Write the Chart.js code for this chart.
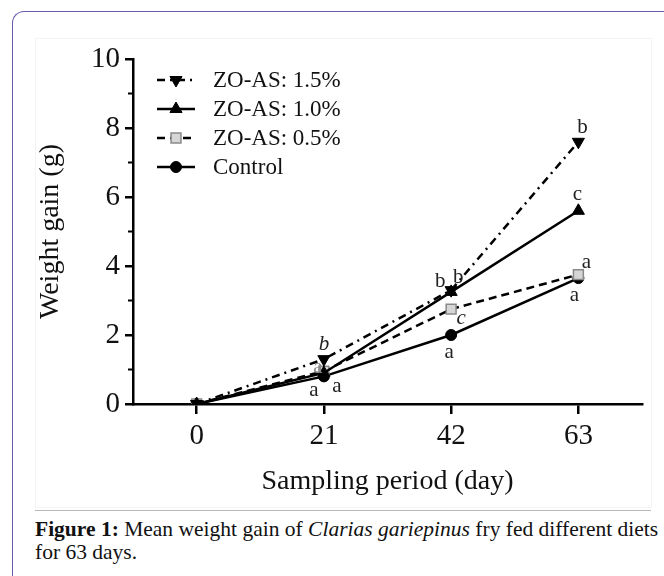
<!DOCTYPE html>
<html>
<head>
<meta charset="utf-8">
<script src="https://cdn.jsdelivr.net/npm/chart.js@4.4.1/dist/chart.umd.min.js"></script>
<style>
html, body { margin: 0; padding: 0; background: #fff; }
body { width: 664px; height: 576px; position: relative; overflow: hidden; font-family: "Liberation Serif", serif; }
#frame { position: absolute; left: 12px; top: 11px; width: 700px; height: 620px; border-left: 1.5px solid #675caf; border-top: 1.5px solid #675caf; border-top-left-radius: 12px; }
#panel { position: absolute; left: 35px; top: 38px; width: 615px; height: 468px; border: 1px solid #f4f4f4; }
#wrap { position: absolute; left: 0; top: 0; width: 664px; height: 505px; }
#rule { position: absolute; left: 35px; top: 510px; width: 616px; height: 1px; background: #b8b8b8; }
#caption { position: absolute; left: 35px; top: 518px; font-size: 21.5px; line-height: 23px; color: #111; white-space: nowrap; }
</style>
</head>
<body>
<div id="frame"></div>
<div id="panel"></div>
<div id="wrap"><canvas id="chart"></canvas></div>
<div id="rule"></div>
<div id="caption"><b>Figure 1:</b> Mean weight gain of <i>Clarias gariepinus</i> fry fed different diets<br>for 63 days.</div>
<script>
// sampling days and tick labels
const days = [0, 21, 42, 63];
const xTickLabels = ["0", "21", "42", "63"];
const yTickValues = [0, 2, 4, 6, 8, 10];
const yMinorTicks = [1, 3, 5, 7, 9];

const seriesNames = ["ZO-AS: 1.5%", "ZO-AS: 1.0%", "ZO-AS: 0.5%", "Control"];

// weight gain (g)
const zo15 = [0, 1.3, 3.3, 7.6];
const zo10 = [0, 0.9, 3.25, 5.6];
const zo05 = [0, 0.95, 2.75, 3.75];
const control = [0, 0.8, 2.0, 3.65];

// significance letters
const letters15 = ["", "b", "b", "b"];
const letters10 = ["", "a", "b", "c"];
const letters05 = ["", "a", "c", "a"];
const lettersControl = ["", "a", "a", "a"];

const FONT = "Liberation Serif";

// where each letter sits next to its point
const letterStyle = [
    [null, { dx: 0, dy: -15, italic: true }, { dx: 7, dy: -13 }, { dx: 4, dy: -14 }],
    [null, { dx: 13, dy: 14 }, { dx: -11, dy: -10 }, { dx: -1, dy: -16 }],
    [null, { dx: -6, dy: -4, color: "#888" }, { dx: 10, dy: 9, italic: true }, { dx: 8, dy: -12 }],
    [null, { dx: -10, dy: 14 }, { dx: -2, dy: 17 }, { dx: -4, dy: 17 }]
];
const allLetters = [letters15, letters10, letters05, lettersControl];

function series(label, values, extra) {
    return Object.assign({
        label,
        data: days.map((d, i) => ({ x: d, y: values[i] })),
        borderColor: "#000",
        backgroundColor: "#000",
        borderWidth: 2.5,
        pointRadius: 6,
        pointHoverRadius: 6,
        pointBorderColor: "#000",
        pointBackgroundColor: "#000",
        pointBorderWidth: 1,
        tension: 0,
        fill: false
    }, extra);
}

function drawMarker(ctx, ds, x, y) {
    const r = ds.pointRadius;
    ctx.save();
    ctx.translate(x, y);
    ctx.rotate((ds.pointRotation || 0) * Math.PI / 180);
    ctx.beginPath();
    if (ds.pointStyle === "triangle") {
        ctx.moveTo(0, -r);
        ctx.lineTo(r * 0.866, r * 0.5);
        ctx.lineTo(-r * 0.866, r * 0.5);
        ctx.closePath();
    } else if (ds.pointStyle === "rect") {
        const s = r * Math.SQRT1_2;
        ctx.rect(-s, -s, 2 * s, 2 * s);
    } else {
        ctx.arc(0, 0, r, 0, Math.PI * 2);
    }
    ctx.setLineDash([]);
    ctx.fillStyle = ds.pointBackgroundColor;
    ctx.fill();
    ctx.lineWidth = ds.pointBorderWidth;
    ctx.strokeStyle = ds.pointBorderColor;
    ctx.stroke();
    ctx.restore();
}

const extras = {
    id: "extras",
    afterDraw(chart) {
        const ctx = chart.ctx;
        const area = chart.chartArea;
        const yScale = chart.scales.y;

        // minor ticks on the y axis
        ctx.save();
        ctx.strokeStyle = "#000";
        ctx.lineWidth = 2;
        yMinorTicks.forEach(v => {
            const py = yScale.getPixelForValue(v);
            ctx.beginPath();
            ctx.moveTo(area.left - 5, py);
            ctx.lineTo(area.left, py);
            ctx.stroke();
        });
        ctx.restore();

        // letters
        ctx.save();
        ctx.textAlign = "center";
        ctx.textBaseline = "middle";
        allLetters.forEach((letters, di) => {
            const meta = chart.getDatasetMeta(di);
            letters.forEach((txt, i) => {
                if (!txt) return;
                const st = letterStyle[di][i];
                const pt = meta.data[i];
                ctx.font = (st.italic ? "italic " : "") + "21px '" + FONT + "'";
                ctx.fillStyle = st.color || "#222";
                ctx.fillText(txt, pt.x + st.dx, pt.y + st.dy);
            });
        });
        ctx.restore();

        // legend
        const x0 = area.left + 24, x1 = area.left + 62, tx = area.left + 80;
        ctx.save();
        chart.data.datasets.forEach((ds, i) => {
            const y = area.top + 21 + i * 29;
            ctx.beginPath();
            ctx.setLineDash(ds.borderDash || []);
            ctx.lineWidth = ds.borderWidth;
            ctx.strokeStyle = ds.borderColor;
            ctx.moveTo(x0, y);
            ctx.lineTo(x1, y);
            ctx.stroke();
            drawMarker(ctx, ds, (x0 + x1) / 2, y);
            ctx.font = "23px '" + FONT + "'";
            ctx.fillStyle = "#111";
            ctx.textAlign = "left";
            ctx.textBaseline = "middle";
            ctx.fillText(ds.label, tx, y + 1);
        });
        ctx.restore();
    }
};

new Chart(document.getElementById("chart"), {
    type: "line",
    data: {
        datasets: [
            series(seriesNames[0], zo15, { borderDash: [8, 5, 2, 5], pointStyle: "triangle", pointRotation: 180, pointRadius: 7 }),
            series(seriesNames[1], zo10, { pointStyle: "triangle", pointRadius: 7 }),
            series(seriesNames[2], zo05, { borderDash: [8, 5], pointStyle: "rect", pointRadius: 7, pointBackgroundColor: "#d6d6d6", pointBorderColor: "#8a8a8a", pointBorderWidth: 1.5 }),
            series(seriesNames[3], control, { pointStyle: "circle", pointRadius: 5.5 })
        ]
    },
    options: {
        responsive: true,
        maintainAspectRatio: false,
        animation: false,
        events: [],
        layout: { padding: { top: 59, left: 0, right: 22, bottom: 7 } },
        plugins: { legend: { display: false }, tooltip: { enabled: false } },
        scales: {
            x: {
                type: "linear",
                min: -10.5,
                max: 73.5,
                afterBuildTicks: s => { s.ticks = days.map(v => ({ value: v })); },
                afterFit: s => { s.height = 94; },
                border: { display: true, color: "#000", width: 2.5 },
                grid: { drawOnChartArea: false, drawTicks: true, tickLength: 10, color: "#000", lineWidth: 2.5 },
                ticks: {
                    color: "#111",
                    font: { family: FONT, size: 29 },
                    padding: 5,
                    maxRotation: 0,
                    autoSkip: false,
                    callback: v => {
                        const i = days.indexOf(v);
                        return i >= 0 ? xTickLabels[i] : "";
                    }
                },
                title: {
                    display: true,
                    text: "Sampling period (day)",
                    color: "#111",
                    font: { family: FONT, size: 28 },
                    padding: { top: 0, bottom: 0 }
                }
            },
            y: {
                min: 0,
                max: 10,
                afterBuildTicks: s => { s.ticks = yTickValues.map(v => ({ value: v })); },
                afterFit: s => { s.width = 133; },
                border: { display: true, color: "#000", width: 2.5 },
                grid: { drawOnChartArea: false, drawTicks: true, tickLength: 8, color: "#000", lineWidth: 2.5 },
                ticks: { color: "#111", font: { family: FONT, size: 29 }, padding: 5 },
                title: {
                    display: true,
                    text: "Weight gain (g)",
                    color: "#111",
                    font: { family: FONT, size: 28 },
                    padding: { top: 34, bottom: 0 }
                }
            }
        }
    },
    plugins: [extras]
});
</script>
</body>
</html>
